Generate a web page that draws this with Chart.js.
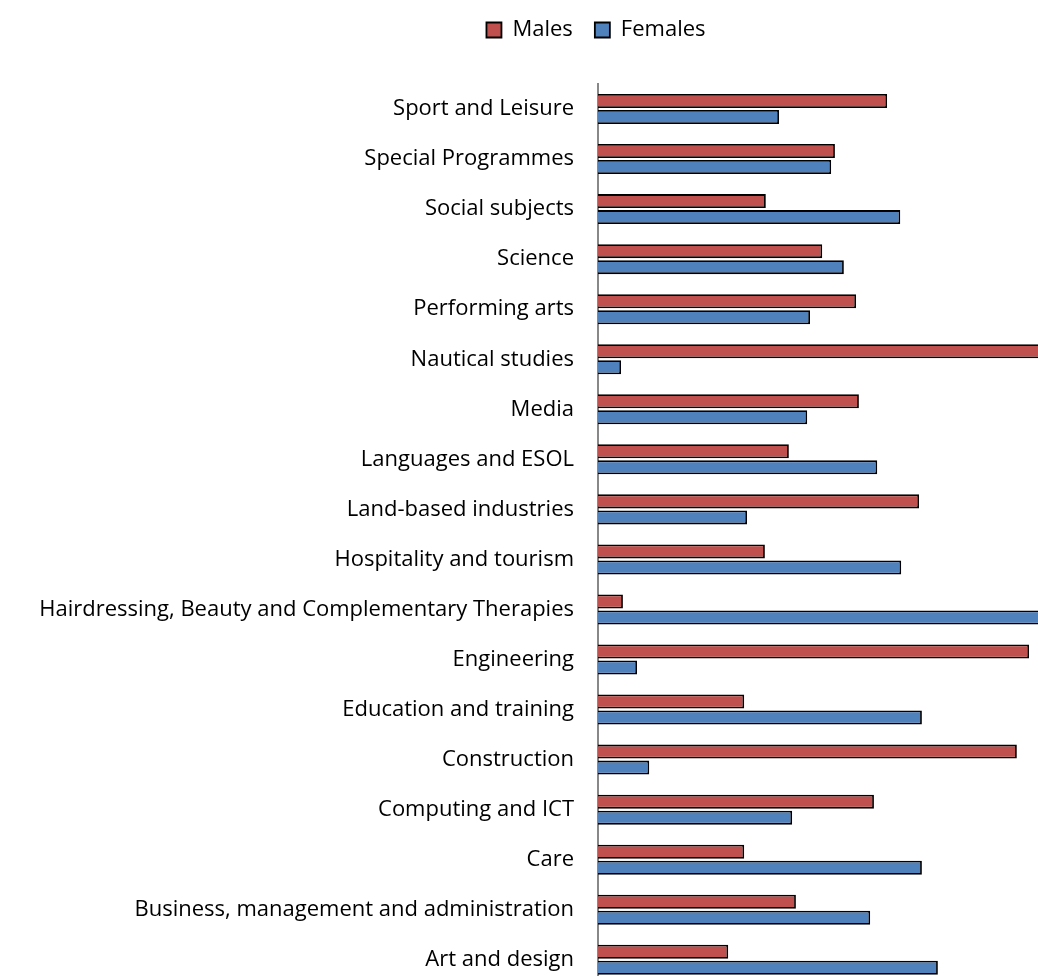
<!DOCTYPE html>
<html>
<head>
<meta charset="utf-8">
<style>
  html, body { margin: 0; padding: 0; background: #fff; overflow: hidden; }
  #wrap { width: 1038px; height: 1022px; }
</style>
</head>
<body>
<div id="wrap"><canvas id="myChart"></canvas></div>
<script src="https://cdn.jsdelivr.net/npm/chart.js"></script>
<script>
  // categories, top to bottom as shown
  const subjects = [
    "Sport and Leisure",
    "Special Programmes",
    "Social subjects",
    "Science",
    "Performing arts",
    "Nautical studies",
    "Media",
    "Languages and ESOL",
    "Land-based industries",
    "Hospitality and tourism",
    "Hairdressing, Beauty and Complementary Therapies",
    "Engineering",
    "Education and training",
    "Construction",
    "Computing and ICT",
    "Care",
    "Business, management and administration",
    "Art and design",
  ];
  // percent of enrolments
  const males = [61.5, 50.4, 35.7, 47.7, 54.9, 95.1, 55.5, 40.6, 68.3, 35.5, 5.3, 91.7, 31.1, 89.1, 58.7, 31.1, 42.1, 27.7];
  const females = [38.5, 49.6, 64.3, 52.3, 45.1, 4.9, 44.5, 59.4, 31.7, 64.5, 94.7, 8.3, 68.9, 10.9, 41.3, 68.9, 57.9, 72.3];

  // legend sits a bit right of centre and has a gap under it
  const legendTweak = {
    id: "legendTweak",
    beforeInit(chart) {
      const fit = chart.legend.fit;
      chart.legend.fit = function () {
        fit.bind(chart.legend)();
        this.height += 22;
      };
    },
    afterLayout(chart) {
      const lg = chart.legend;
      lg.left += 77;
      lg.right += 77;
      lg.top -= 11;
      lg.bottom -= 11;
    },
  };

  const ctx = document.getElementById("myChart");
  new Chart(ctx, {
    type: "bar",
    data: {
      labels: subjects,
      datasets: [
        {
          label: "Males",
          data: males,
          backgroundColor: "#C0504D",
          borderColor: "#000",
          borderWidth: 1.8,
        },
        {
          label: "Females",
          data: females,
          backgroundColor: "#4F81BD",
          borderColor: "#000",
          borderWidth: 1.8,
        },
      ],
    },
    options: {
      indexAxis: "y",
      responsive: true,
      maintainAspectRatio: false,
      animation: false,
      categoryPercentage: 0.64,
      barPercentage: 0.875,
      layout: { padding: { left: 0, right: 0, top: 8, bottom: 0 } },
      scales: {
        x: {
          display: false,
          min: 0,
          max: 93.6,
        },
        y: {
          afterFit: (scale) => { scale.width = 598; },
          grid: { display: false, drawTicks: false },
          border: { display: true, color: "#888", width: 2 },
          ticks: {
            color: "#000",
            padding: 24,
            font: { family: "Open Sans", size: 22 },
          },
        },
      },
      plugins: {
        tooltip: { enabled: false },
        legend: {
          position: "top",
          labels: {
            color: "#000",
            boxWidth: 15,
            boxHeight: 15,
            padding: 22,
            font: { family: "Open Sans", size: 22 },
          },
        },
      },
    },
    plugins: [legendTweak],
  });
</script>
</body>
</html>
